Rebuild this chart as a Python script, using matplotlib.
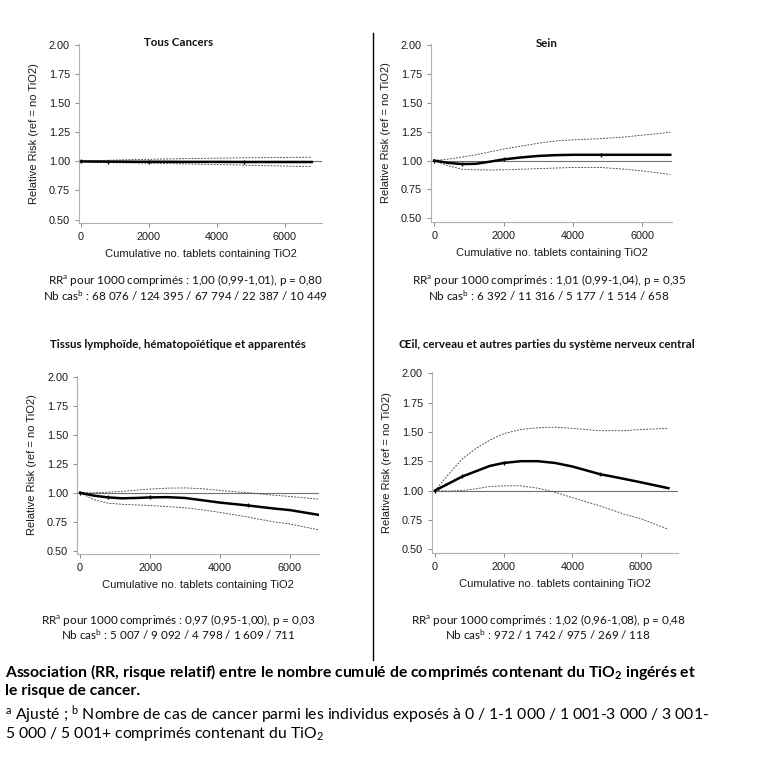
import numpy as np
import matplotlib.pyplot as plt
from matplotlib.lines import Line2D

plt.rcParams['font.family'] = ['Liberation Sans', 'DejaVu Sans']
plt.rcParams['mathtext.fontset'] = 'custom'
plt.rcParams['mathtext.rm'] = 'Lato'
plt.rcParams['mathtext.it'] = 'Lato:italic'
plt.rcParams['mathtext.bf'] = 'Lato:bold'

# x grid for the spline curves (cumulative no. tablets)
x_grid = [0, 400, 800, 1200, 1600, 2000, 2500, 3000, 3500, 4000, 4800, 5500, 6000, 6800]
x_knots = [0, 800, 2000, 4800]

# Tous Cancers
all_rr = [1.0, 0.999, 0.998, 0.998, 0.997, 0.997, 0.997, 0.996, 0.996, 0.996, 0.995, 0.995, 0.995, 0.995]
all_hi = [1.0, 1.005, 1.01, 1.013, 1.016, 1.018, 1.021, 1.024, 1.026, 1.028, 1.031, 1.033, 1.034, 1.036]
all_lo = [1.0, 0.994, 0.99, 0.988, 0.986, 0.985, 0.982, 0.979, 0.976, 0.973, 0.968, 0.963, 0.96, 0.955]

# Sein
sein_rr = [1.0, 0.98, 0.97, 0.972, 0.99, 1.01, 1.027, 1.04, 1.047, 1.05, 1.05, 1.05, 1.05, 1.05]
sein_hi = [1.0, 1.012, 1.03, 1.05, 1.075, 1.1, 1.125, 1.15, 1.17, 1.18, 1.19, 1.205, 1.22, 1.245]
sein_lo = [1.0, 0.955, 0.925, 0.92, 0.918, 0.92, 0.925, 0.93, 0.935, 0.94, 0.94, 0.925, 0.91, 0.88]

# Tissus lymphoide, hematopoietique et apparentes
lymph_rr = [1.0, 0.975, 0.96, 0.952, 0.955, 0.96, 0.962, 0.955, 0.935, 0.915, 0.89, 0.865, 0.85, 0.81]
lymph_hi = [1.0, 1.0, 1.005, 1.012, 1.022, 1.032, 1.04, 1.042, 1.035, 1.02, 1.0, 0.98, 0.968, 0.945]
lymph_lo = [1.0, 0.94, 0.91, 0.9, 0.895, 0.89, 0.88, 0.87, 0.852, 0.83, 0.79, 0.75, 0.73, 0.68]

# Oeil, cerveau et SNC
snc_rr = [1.0, 1.06, 1.12, 1.165, 1.21, 1.235, 1.25, 1.25, 1.235, 1.205, 1.14, 1.1, 1.07, 1.02]
snc_hi = [1.0, 1.14, 1.27, 1.36, 1.43, 1.485, 1.52, 1.535, 1.54, 1.53, 1.51, 1.51, 1.52, 1.53]
snc_lo = [1.0, 0.995, 1.0, 1.015, 1.035, 1.04, 1.04, 1.02, 0.985, 0.94, 0.87, 0.8, 0.76, 0.67]

titles = ['Tous Cancers', 'Sein',
          'Tissus lymphoïde, hématopoïétique et apparentés',
          'Œil, cerveau et autres parties du système nerveux central']
rr_lines = ['RR$^{\\mathrm{a}}$ pour 1000 comprimés : 1,00 (0,99-1,01), p = 0,80',
            'RR$^{\\mathrm{a}}$ pour 1000 comprimés : 1,01 (0,99-1,04), p = 0,35',
            'RR$^{\\mathrm{a}}$ pour 1000 comprimés : 0,97 (0,95-1,00), p = 0,03',
            'RR$^{\\mathrm{a}}$ pour 1000 comprimés : 1,02 (0,96-1,08), p = 0,48']
nb_lines = ['Nb cas$^{\\mathrm{b}}$ : 68 076 / 124 395 / 67 794 / 22 387 / 10 449',
            'Nb cas$^{\\mathrm{b}}$ : 6 392 / 11 316 / 5 177 / 1 514 / 658',
            'Nb cas$^{\\mathrm{b}}$ : 5 007 / 9 092 / 4 798 / 1 609 / 711',
            'Nb cas$^{\\mathrm{b}}$ : 972 / 1 742 / 975 / 269 / 118']

series = [(all_rr, all_hi, all_lo), (sein_rr, sein_hi, sein_lo),
          (lymph_rr, lymph_hi, lymph_lo), (snc_rr, snc_hi, snc_lo)]

# layout (figure fractions)
ax_rects = [[0.1029, 0.7096, 0.3164, 0.2331],
            [0.5612, 0.7113, 0.3138, 0.2314],
            [0.1003, 0.2786, 0.3151, 0.2318],
            [0.5625, 0.2803, 0.3203, 0.2353]]
xlims = [(-60, 7100), (-90, 6850), (-86, 6830), (-87, 7080)]
title_pos = [(0.232, 0.945), (0.712, 0.943), (0.232, 0.551), (0.712, 0.551)]
note_pos = [(0.242, 0.635), (0.715, 0.635), (0.232, 0.193), (0.714, 0.193)]

calibri = ['Lato', 'DejaVu Sans']
grey = '#8c8c8c'

fig = plt.figure(figsize=(7.68, 7.68), dpi=100)

for i in range(4):
    ax = fig.add_axes(ax_rects[i])
    rr, hi, lo = series[i]
    ax.axhline(1.0, color='#707070', linewidth=0.8, zorder=1)
    ax.plot(x_grid, hi, color='#444444', linestyle=(0, (2, 1.5)), linewidth=0.65)
    ax.plot(x_grid, lo, color='#444444', linestyle=(0, (2, 1.5)), linewidth=0.65)
    ax.plot(x_grid, rr, color='black', linewidth=1.8, zorder=3)
    ax.plot(x_knots, np.interp(x_knots, x_grid, rr), linestyle='none', marker='|',
            markersize=3, color='black', zorder=4)
    ax.set_xlim(*xlims[i])
    ax.set_ylim(0.47, 2.01)
    ax.set_xticks([0, 2000, 4000, 6000])
    ax.set_yticks([0.5, 0.75, 1.0, 1.25, 1.5, 1.75, 2.0])
    ax.set_yticklabels(['0.50', '0.75', '1.00', '1.25', '1.50', '1.75', '2.00'])
    for s in ['top', 'right']:
        ax.spines[s].set_visible(False)
    for s in ['left', 'bottom']:
        ax.spines[s].set_color('#b0b0b0')
        ax.spines[s].set_linewidth(0.8)
    ax.tick_params(colors=grey, labelcolor='#1a1a1a', labelsize=7.8, length=3, width=0.7)
    ax.set_xlabel('Cumulative no. tablets containing TiO2', fontsize=8, color='#1a1a1a', labelpad=5)
    ax.set_ylabel('Relative Risk (ref = no TiO2)', fontsize=8, color='#1a1a1a', labelpad=7)

    fig.text(title_pos[i][0], title_pos[i][1], titles[i], ha='center', va='center',
             fontsize=8.3, fontweight='bold', family=calibri, color='#111111')
    fig.text(note_pos[i][0], note_pos[i][1], rr_lines[i], ha='center', va='center',
             fontsize=8.4, family=calibri, color='#111111')
    fig.text(note_pos[i][0], note_pos[i][1] - 0.0195, nb_lines[i], ha='center', va='center',
             fontsize=8.4, family=calibri, color='#111111')

# separator between the columns
fig.add_artist(Line2D([0.4857, 0.4857], [0.957, 0.1406], color='black', linewidth=1.0))

# caption
cap_size = 11.3
fig.text(0.006, 0.125, 'Association (RR, risque relatif) entre le nombre cumulé de comprimés contenant du TiO$_\\mathbf{2}$ ingérés et',
         ha='left', va='center', fontsize=cap_size, fontweight='bold', family=calibri)
fig.text(0.006, 0.1, 'le risque de cancer.', ha='left', va='center', fontsize=cap_size,
         fontweight='bold', family=calibri)
fig.text(0.006, 0.07, '$^{\\mathrm{a}}$ Ajusté ; $^{\\mathrm{b}}$ Nombre de cas de cancer parmi les individus exposés à 0 / 1-1 000 / 1 001-3 000 / 3 001-',
         ha='left', va='center', fontsize=cap_size, family=calibri)
fig.text(0.006, 0.044, '5 000 / 5 001+ comprimés contenant du TiO$_\\mathrm{2}$',
         ha='left', va='center', fontsize=cap_size, family=calibri)

fig.savefig('out.png', dpi=100, facecolor='white')
